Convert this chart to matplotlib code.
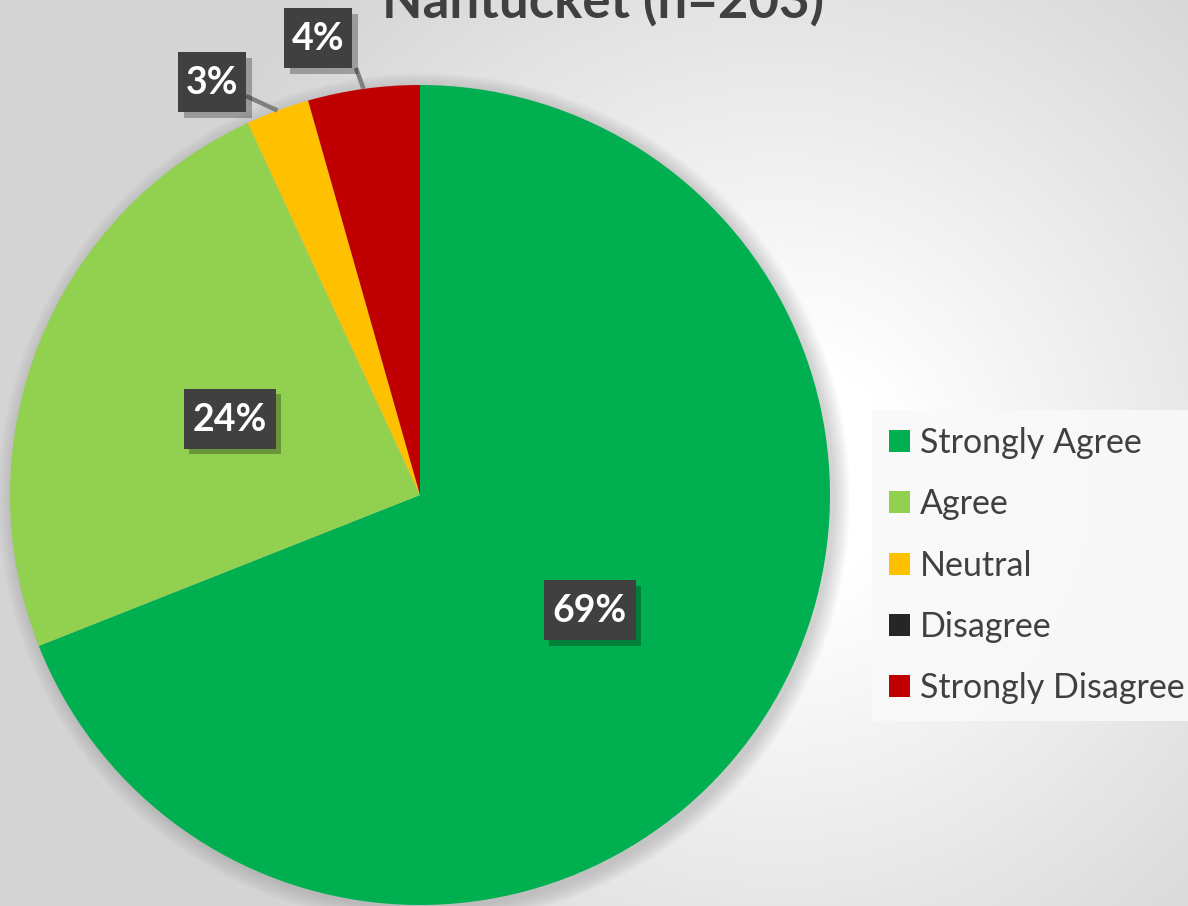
import numpy as np
import matplotlib
matplotlib.use("Agg")
import matplotlib.pyplot as plt
from matplotlib.patches import Circle, Rectangle
import matplotlib.patheffects as pe

# ---- data ----
categories = ["Strongly Agree", "Agree", "Neutral", "Disagree", "Strongly Disagree"]
values = [69.0, 24.1, 2.5, 0.0, 4.4]
colors = ["#00b050", "#92d050", "#ffc000", "#262626", "#c00000"]
title = "Nantucket (n=203)"

plt.rcParams["font.family"] = ["Lato", "DejaVu Sans"]

W, H = 1188, 906
fig = plt.figure(figsize=(W / 100, H / 100), dpi=100)
ax = fig.add_axes([0, 0, 1, 1])

# background radial gradient
yy, xx = np.mgrid[0:H, 0:W]
d = np.hypot(xx - 780, yy - 430)
g = 255 - 43 * np.clip((d - 120) / 550, 0, 1)
bg = np.dstack([g, g, g]) / 255.0
ax.imshow(bg, extent=(0, W, H, 0), zorder=0, interpolation="bilinear")

cx, cy, R = 420, H - 495, 410

# soft shadow behind pie
for i in range(14):
    ax.add_patch(Circle((cx + 4, cy - 4), R + 16 - i * 1.2, color="#7a7a7a",
                        alpha=0.022, lw=0, zorder=1))

wedges, _ = ax.pie(values, colors=colors, startangle=90, counterclock=False,
                   center=(cx, cy), radius=R, frame=True,
                   wedgeprops=dict(linewidth=0, zorder=2))
ax.set_xlim(0, W)
ax.set_ylim(0, H)
ax.set_aspect("equal")
ax.axis("off")

labels = [f"{int(v + 0.5)}%" for v in values]
# outside label box centres (pixel coords from top-left) for small slices
outside = {2: (212, 82), 4: (318, 38)}
shadow = [pe.withSimplePatchShadow(offset=(4, -4), shadow_rgbFace="#000000", alpha=0.28),
          pe.Normal()]

for i, (w, v) in enumerate(zip(wedges, values)):
    if v <= 0:
        continue
    mid = np.deg2rad((w.theta1 + w.theta2) / 2)
    if i in outside:
        lx, ly = outside[i]
        ly = H - ly
        ex, ey = cx + R * np.cos(mid), cy + R * np.sin(mid)
        sx = lx + (34 if i == 2 else 38)
        sy = ly - (14 if i == 2 else 30)
        ax.plot([sx, ex], [sy, ey], color="#7f7f7f", lw=3.2, zorder=3,
                solid_capstyle="butt")
    else:
        lx, ly = cx + 0.5 * R * np.cos(mid), cy + 0.5 * R * np.sin(mid)
    bw = 92 if len(labels[i]) == 3 else 68
    bh = 60
    rect = Rectangle((lx - bw / 2, ly - bh / 2), bw, bh, fc="#404040", ec="none",
                     zorder=4)
    rect.set_path_effects(shadow)
    ax.add_patch(rect)
    ax.text(lx, ly - 1, labels[i], ha="center", va="center", fontsize=27,
            fontweight="bold", color="white", zorder=5)

ax.text(603, H - 17, title, ha="center", va="baseline", fontsize=38,
        fontweight="bold", color="#404040", zorder=5)

leg = ax.legend(wedges, categories, loc="upper left",
                bbox_to_anchor=(872 / W, 1 - 410 / H), bbox_transform=fig.transFigure,
                fontsize=24.5, frameon=True, fancybox=False, handlelength=0.62,
                handleheight=0.62, handletextpad=0.3, labelspacing=0.86,
                borderpad=0.5, borderaxespad=0)
leg.get_frame().set_facecolor("#f9f9f9")
leg.get_frame().set_edgecolor("none")
leg.get_frame().set_alpha(0.9)
for txt in leg.get_texts():
    txt.set_color("#404040")
leg.set_zorder(6)

fig.savefig("out.png", dpi=100)
